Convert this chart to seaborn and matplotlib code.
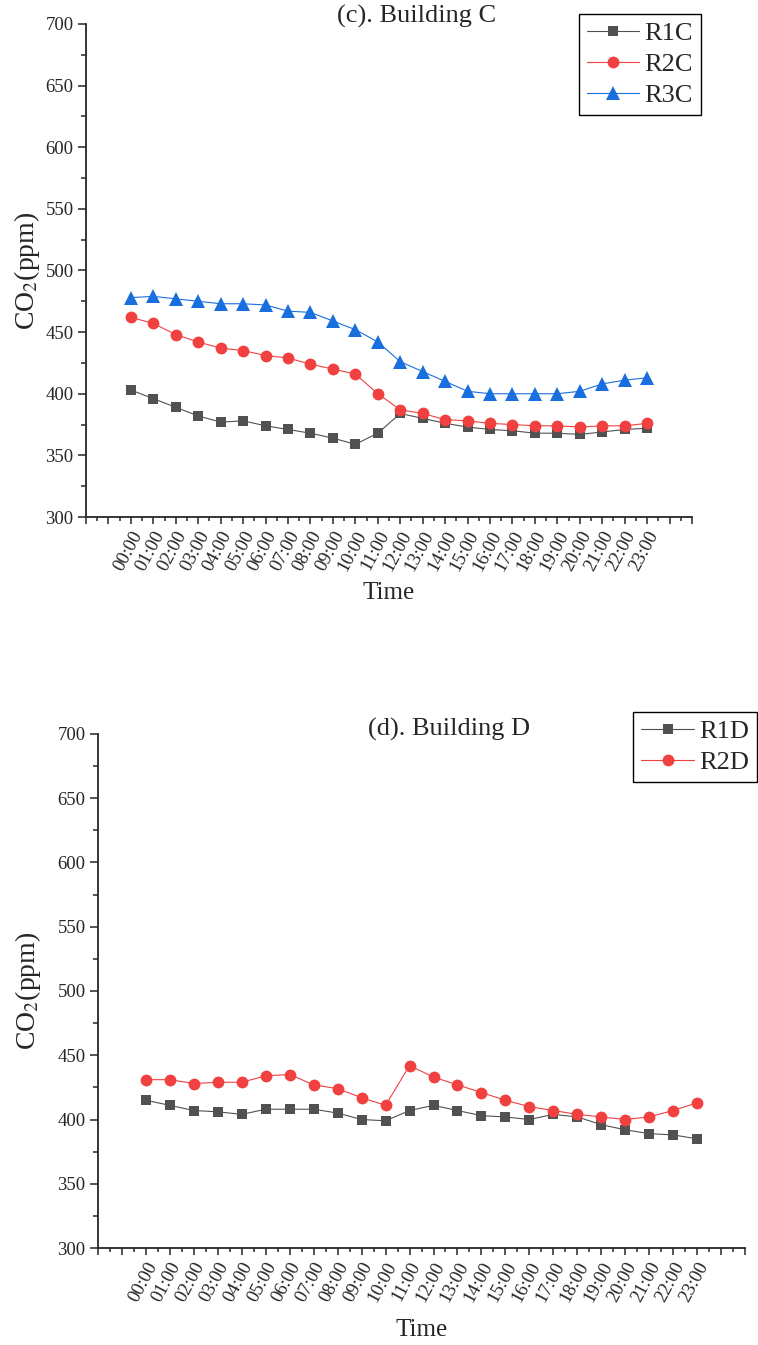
import numpy as np
import pandas as pd
import matplotlib
matplotlib.use("Agg")
import matplotlib.pyplot as plt
import matplotlib.transforms as mtransforms
import seaborn as sns
from matplotlib.ticker import MultipleLocator, FixedLocator

sns.set_style("ticks")
plt.rcParams["font.family"] = ["Liberation Serif", "DejaVu Serif"]
plt.rcParams["mathtext.fontset"] = "stix"

hours = [f"{h:02d}:00" for h in range(24)]

# Building C hourly CO2 (ppm)
r1c = [403, 396, 389, 382, 377, 378, 374, 371, 368, 364, 359, 368,
       384, 380, 376, 373, 371, 370, 368, 368, 367, 369, 371, 372]
r2c = [462, 457, 448, 442, 437, 435, 431, 429, 424, 420, 416, 400,
       387, 384, 379, 378, 376, 375, 374, 374, 373, 374, 374, 376]
r3c = [478, 479, 477, 475, 473, 473, 472, 467, 466, 459, 452, 442,
       426, 418, 410, 402, 400, 400, 400, 400, 402, 408, 411, 413]

# Building D hourly CO2 (ppm)
r1d = [415, 411, 407, 406, 404, 408, 408, 408, 405, 400, 399, 407,
       411, 407, 403, 402, 400, 404, 402, 396, 392, 389, 388, 385]
r2d = [431, 431, 428, 429, 429, 434, 435, 427, 424, 417, 411, 442,
       433, 427, 421, 415, 410, 407, 404, 402, 400, 402, 407, 413]

colors = {"black": "#515151", "red": "#F14040", "blue": "#1A6FDF"}

fig = plt.figure(figsize=(7.58, 13.45), dpi=100)
ax1 = fig.add_axes([0.1135, 0.6156, 0.7995, 0.3666])
ax2 = fig.add_axes([0.1293, 0.0721, 0.8536, 0.3822])

x = np.arange(len(hours))


def draw(ax, series, title, title_x, title_y, legend_anchor, ylab_x, xlab_y):
    for name, vals, col, mk, ms in series:
        df = pd.DataFrame({"t": x, "co2": vals})
        sns.lineplot(data=df, x="t", y="co2", ax=ax, color=col, lw=0.8,
                     marker=mk, markersize=ms, markeredgewidth=0,
                     markerfacecolor=col, label=name)
    ax.set_xlim(-2, 25)
    ax.set_ylim(300, 700)
    ax.yaxis.set_major_locator(MultipleLocator(50))
    ax.yaxis.set_minor_locator(MultipleLocator(25))
    ax.xaxis.set_major_locator(FixedLocator(np.arange(-2, 26)))
    ax.xaxis.set_minor_locator(FixedLocator(np.arange(-1.5, 25, 1.0)))
    ax.tick_params(axis="y", which="major", length=6, width=1.1, labelsize=13.5, pad=3)
    ax.tick_params(axis="y", which="minor", length=3.5, width=1.1)
    ax.tick_params(axis="x", which="major", length=5, width=1.1, pad=6)
    ax.tick_params(axis="x", which="minor", length=3, width=1.1)
    labels = ["" if (i < 0 or i > 23) else hours[i] for i in range(-2, 26)]
    ax.set_xticklabels(labels, rotation=62, ha="right", va="center",
                       rotation_mode="anchor", fontsize=13.5)
    # nudge the slanted hour labels a little to the right of their ticks
    shift = mtransforms.ScaledTranslation(5 / 72, 0, fig.dpi_scale_trans)
    for lab in ax.get_xticklabels():
        lab.set_transform(lab.get_transform() + shift)
    for s in ("top", "right"):
        ax.spines[s].set_visible(False)
    for s in ("left", "bottom"):
        ax.spines[s].set_linewidth(1.3)
    ax.set_ylabel(r"CO$_2$(ppm)", fontsize=20)
    ax.set_xlabel("Time", fontsize=18)
    ax.yaxis.set_label_coords(ylab_x, 0.5)
    ax.xaxis.set_label_coords(0.5, xlab_y)
    ax.xaxis.label.set_va("center")
    ax.yaxis.label.set_va("center")
    ax.text(title_x, title_y, title, transform=ax.transAxes, ha="center",
            va="center", fontsize=19)
    leg = ax.legend(loc="upper right", bbox_to_anchor=legend_anchor,
                    bbox_transform=fig.transFigure, fontsize=19, frameon=True,
                    fancybox=False, edgecolor="black", framealpha=1,
                    borderpad=0.3, labelspacing=0.28, handlelength=2.0,
                    handletextpad=0.2, borderaxespad=0)
    leg.get_frame().set_linewidth(1.0)


draw(ax1,
     [("R1C", r1c, colors["black"], "s", 7.5),
      ("R2C", r2c, colors["red"], "o", 8.5),
      ("R3C", r3c, colors["blue"], "^", 9.5)],
     "(c). Building C", 0.545, 1.016, (0.9248, 0.9896), -0.097, -0.154)

draw(ax2,
     [("R1D", r1d, colors["black"], "s", 7.5),
      ("R2D", r2d, colors["red"], "o", 8.5)],
     "(d). Building D", 0.5425, 1.008, (0.9987, 0.4706), -0.108, -0.16)

fig.savefig("out.png", dpi=100)
